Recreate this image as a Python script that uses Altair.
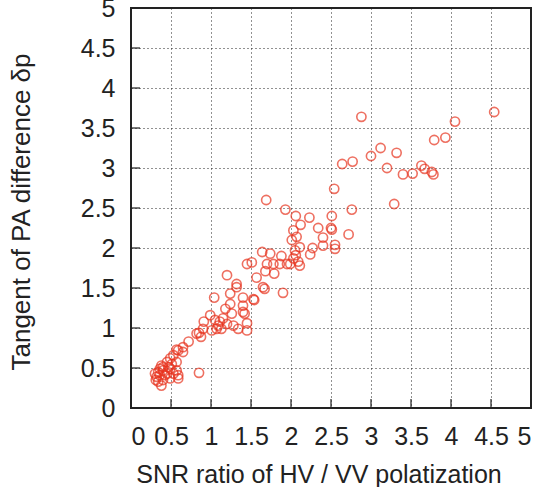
import altair as alt
import pandas as pd

# SNR ratio of HV / VV polarization (x) vs tangent of PA difference (y)
x_vals = [
    4.54, 4.05, 3.79, 3.93, 2.88, 3.12, 3.00, 3.32, 2.64, 2.77,
    3.20, 3.40, 3.52, 3.63, 3.67, 3.76, 3.78, 3.29, 2.54, 1.69,
    1.93, 2.76, 2.06, 2.23, 2.51, 2.12, 2.34, 2.50, 2.51, 2.72,
    2.03, 2.40, 2.01, 2.07, 2.55, 2.55, 2.40, 2.27, 2.24, 2.11,
    2.05, 2.03, 2.09, 2.11, 1.99, 2.06, 1.64, 1.74, 1.88, 1.70,
    1.78, 1.86, 1.95, 1.45, 1.51, 1.68, 1.79, 1.57, 1.20, 1.32,
    1.32, 1.24, 1.65, 1.67, 1.90, 1.40, 1.54, 1.53, 1.04, 1.24,
    1.18, 1.40, 1.40, 1.42, 1.26, 0.99, 1.05, 1.11, 1.15, 1.09,
    1.20, 1.07, 1.13, 1.01, 0.91, 0.90, 1.45, 1.45, 1.34, 1.28,
    0.85, 0.875, 0.82, 0.72, 0.65, 0.59, 0.57, 0.65, 0.53, 0.85,
    0.38, 0.45, 0.49, 0.51, 0.57, 0.40, 0.34, 0.30, 0.32, 0.36,
    0.45, 0.49, 0.57, 0.59, 0.59, 0.49, 0.40, 0.34, 0.38, 0.31,
    0.425, 0.53, 0.47, 0.40, 0.36,
]
y_vals = [
    3.70, 3.58, 3.35, 3.38, 3.64, 3.25, 3.15, 3.19, 3.05, 3.08,
    3.00, 2.92, 2.93, 3.03, 2.99, 2.95, 2.92, 2.55, 2.74, 2.60,
    2.48, 2.48, 2.40, 2.38, 2.40, 2.29, 2.25, 2.25, 2.23, 2.17,
    2.22, 2.13, 2.10, 2.14, 2.04, 1.99, 2.03, 2.00, 1.92, 2.01,
    1.97, 1.87, 1.83, 1.78, 1.80, 1.91, 1.95, 1.93, 1.90, 1.80,
    1.80, 1.80, 1.80, 1.80, 1.82, 1.71, 1.68, 1.63, 1.66, 1.55,
    1.51, 1.43, 1.51, 1.49, 1.44, 1.38, 1.35, 1.36, 1.38, 1.30,
    1.24, 1.28, 1.20, 1.18, 1.18, 1.16, 1.10, 1.08, 1.12, 1.03,
    1.05, 0.99, 0.99, 0.97, 1.08, 0.99, 1.06, 0.97, 0.99, 1.03,
    0.94, 0.89, 0.93, 0.83, 0.76, 0.72, 0.73, 0.70, 0.66, 0.44,
    0.53, 0.575, 0.62, 0.55, 0.575, 0.47, 0.45, 0.43, 0.39, 0.41,
    0.43, 0.49, 0.47, 0.41, 0.37, 0.37, 0.35, 0.33, 0.28, 0.35,
    0.41, 0.43, 0.51, 0.51, 0.49,
]
tick_values = [0, 0.5, 1, 1.5, 2, 2.5, 3, 3.5, 4, 4.5, 5]

x_title = "SNR ratio of HV / VV polatization"
y_title = "Tangent of PA difference δp"

points = pd.DataFrame({"x": x_vals, "y": y_vals})
ticks = pd.DataFrame({"v": tick_values})
one_row = pd.DataFrame({"k": [0]})

FONT = "Liberation Sans"
RED = "#e8341f"

xscale = alt.Scale(domain=[0, 5], nice=False, zero=False)
yscale = alt.Scale(domain=[0, 5], nice=False, zero=False)

xaxis = alt.Axis(
    values=tick_values, format="~g", title=None,
    grid=True, gridColor="#222", gridDash=[1, 3], gridWidth=1,
    domain=False, ticks=False,
    labelFont=FONT, labelFontSize=25, labelColor="#222",
    labelBaseline="alphabetic", labelPadding=36, labelOverlap=False,
)
yaxis = alt.Axis(
    values=tick_values, format="~g", title=None,
    grid=True, gridColor="#222", gridDash=[1, 3], gridWidth=1,
    domain=False, ticks=False,
    labelFont=FONT, labelFontSize=25, labelColor="#222",
    labelAlign="right", labelBaseline="middle", labelPadding=16, labelOverlap=False,
)

circles = alt.Chart(points).mark_point(
    shape="circle", size=85, strokeWidth=1.6, color=RED
).encode(
    x=alt.X("x:Q", scale=xscale, axis=xaxis),
    y=alt.Y("y:Q", scale=yscale, axis=yaxis),
)

TICK_LEN = 9
x_bottom = alt.Chart(ticks).mark_rule(color="#222", strokeWidth=1.2).encode(
    x=alt.X("v:Q", scale=xscale, axis=xaxis),
    y=alt.value(400), y2=alt.value(400 - TICK_LEN),
)
y_left = alt.Chart(ticks).mark_rule(color="#222", strokeWidth=1.2).encode(
    y=alt.Y("v:Q", scale=yscale, axis=yaxis),
    x=alt.value(0), x2=alt.value(TICK_LEN),
)

x_title_mark = alt.Chart(one_row).mark_text(
    font=FONT, fontSize=25, color="#222", align="center", baseline="alphabetic"
).encode(x=alt.value(188), y=alt.value(475), text=alt.value(x_title))

y_title_mark = alt.Chart(one_row).mark_text(
    font=FONT, fontSize=26, color="#222", align="center", baseline="middle", angle=270
).encode(x=alt.value(-109), y=alt.value(204), text=alt.value(y_title))

chart = alt.layer(x_bottom, y_left, circles, x_title_mark, y_title_mark).properties(
    width=400, height=400,
    autosize=alt.AutoSizeParams(type="none"),
    padding={"left": 131, "top": 8, "right": 9, "bottom": 79},
).configure_view(stroke="#222", strokeWidth=2)

chart.save("out.html", embed_options={"renderer": "svg", "actions": False})
